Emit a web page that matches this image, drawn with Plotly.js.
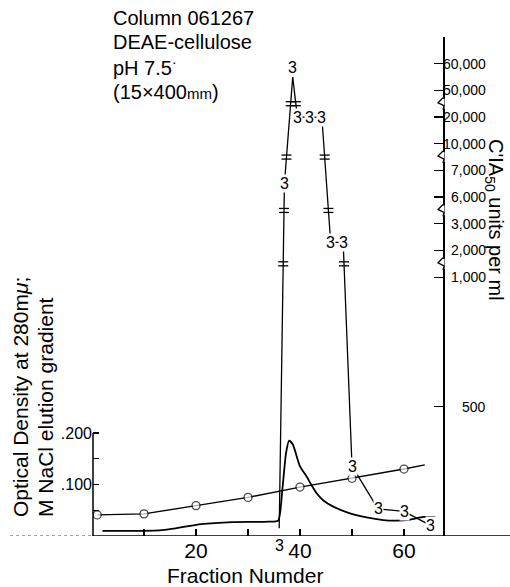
<!DOCTYPE html>
<html><head><meta charset="utf-8">
<script src="https://cdn.plot.ly/plotly-3.0.1.min.js"></script>
<style>html,body{margin:0;padding:0;background:#fff;}#chart{width:510px;height:587px;}</style>
</head><body><div id="chart"></div>
<script>
// ---------------- data ----------------
const naclFraction = [1, 10, 20, 30, 40, 50, 60, 64];
const naclMolarity = [0.041, 0.043, 0.059, 0.075, 0.095, 0.112, 0.130, 0.138];

const odFraction = [2, 13, 16, 21, 27, 34, 35.8, 36.6, 37.3, 37.9, 38.6, 40, 41.3, 42.2, 43.2, 44.5, 46.4, 49.6, 52.8, 56, 58.6, 61.2, 63.7, 66];
const odValue    = [0.010, 0.011, 0.015, 0.023, 0.027, 0.028, 0.030, 0.090, 0.160, 0.185, 0.178, 0.135, 0.115, 0.099, 0.083, 0.069, 0.057, 0.044, 0.036, 0.031, 0.030, 0.032, 0.037, 0.037];

const actFraction = [36, 37, 38.6, 39.5, 41.8, 44.2, 45.9, 48.3, 50, 55, 60, 65];
const actUnits    = [30, 6500, 55000, 20000, 20000, 20000, 2300, 2300, 270, 105, 95, 42];
const actMarker   = ['3', '3', '3', '3', '3', '3', '3', '3', '3', '3', '3', '3'];
const actMarkerPlace = ['below', 'center', 'above', 'center', 'center', 'center', 'center', 'center', 'center', 'center', 'center', 'center'];

// broken right-hand scale (C'IA50 units per ml)
const scaleValues = [0, 1000, 2000, 3000, 6000, 7000, 10000, 20000, 50000, 60000, 70000];
const scaleText   = ['', '1,000', '2,000', '3,000', '6,000', '7,000', '10,000', '20,000', '50,000', '60,000', ''];
const extraTickValues = [500];
const extraTickText   = ['500'];
const breakAfter = [1000, 3000, 7000, 20000];
const LINEAR_SPAN = 9.7;   // steps occupied by the linear 0-1000 part

const xTickVals = [20, 40, 60];
const xTickText = ['20', '40', '60'];
const xMinorVals = [10, 30, 50];
const odTickVals = [0.1, 0.2];
const odTickText = ['.100', '.200'];
const odMinorVals = [0.05, 0.15];

// ---------------- helpers ----------------
const scalePositions = scaleValues.map((v, i) => i === 0 ? 0 : LINEAR_SPAN + (i - 1));
function scalePos(v) {
  for (let i = 0; i < scaleValues.length - 1; i++) {
    if (v <= scaleValues[i + 1]) {
      const t = (v - scaleValues[i]) / (scaleValues[i + 1] - scaleValues[i]);
      return scalePositions[i] + t * (scalePositions[i + 1] - scalePositions[i]);
    }
  }
  return scalePositions[scalePositions.length - 1];
}
const L = 93, R = 443, T = 37, B = 536;
const pxX = p => (p - L) / (R - L);
const pxY = p => (B - p) / (B - T);

const MAIN = "'Liberation Sans', Arial, sans-serif";

const actPos = actUnits.map(scalePos);
const y2Top = scalePositions[scalePositions.length - 1];

// ---------------- traces ----------------
const traces = [
  { x: odFraction, y: odValue, yaxis: 'y', mode: 'lines',
    line: { color: '#000', width: 1.8, shape: 'spline', smoothing: 0.6 }, hoverinfo: 'skip' },
  { x: naclFraction, y: naclMolarity, yaxis: 'y', mode: 'lines+markers',
    line: { color: '#000', width: 1.4 },
    marker: { symbol: 'circle', color: '#fff', size: naclFraction.map((f, i) => i === naclFraction.length - 1 ? 0 : 8),
              line: { color: '#000', width: 1.3 } }, hoverinfo: 'skip' },
  { x: actFraction, y: actPos, yaxis: 'y2', mode: 'lines',
    line: { color: '#000', width: 1.3 }, hoverinfo: 'skip' }
];

// ---------------- shapes ----------------
const shapes = [];
shapes.push({ type: 'line', xref: 'paper', yref: 'y', x0: 0, x1: pxX(510), y0: 0, y1: 0, line: { color: '#000', width: 1.5 } });
shapes.push({ type: 'line', xref: 'paper', yref: 'y', x0: pxX(10), x1: 0, y0: 0, y1: 0, line: { color: '#444', width: 1, dash: 'dot' } });
shapes.push({ type: 'line', xref: 'paper', yref: 'y', x0: 0, x1: 0, y0: 0, y1: 0.2, line: { color: '#000', width: 1.5 } });
breakAfter.forEach(v => {
  const b = scalePos(v) + 0.5;
  shapes.push({ type: 'rect', xref: 'paper', yref: 'y2', xsizemode: 'pixel', ysizemode: 'pixel',
    xanchor: 1, yanchor: b, x0: -1.5, x1: 1.5, y0: -5, y1: 5, fillcolor: '#fff', line: { width: 0 }, layer: 'above' });
  shapes.push({ type: 'path', xref: 'paper', yref: 'y2', xsizemode: 'pixel', ysizemode: 'pixel',
    xanchor: 1, yanchor: b, path: 'M0,6 L-5,1 L1,-2 L0,-6', line: { color: '#000', width: 1.3 }, layer: 'above' });
});
breakAfter.forEach(v => {
  const b = scalePos(v) + 0.5;
  for (let i = 0; i < actPos.length - 1; i++) {
    if ((actPos[i] - b) * (actPos[i + 1] - b) < 0) {
      const t = (b - actPos[i]) / (actPos[i + 1] - actPos[i]);
      const xc = actFraction[i] + t * (actFraction[i + 1] - actFraction[i]);
      [-2, 2].forEach(dy => shapes.push({ type: 'line', xref: 'x', yref: 'y2', xsizemode: 'pixel', ysizemode: 'pixel',
        xanchor: xc, yanchor: b, x0: -5, x1: 5, y0: dy, y1: dy, line: { color: '#000', width: 1.3 } }));
    }
  }
});

// ---------------- annotations ----------------
const ann = [];
actFraction.forEach((f, i) => {
  const place = actMarkerPlace[i];
  ann.push({ x: f, y: actPos[i], xref: 'x', yref: 'y2', text: actMarker[i], showarrow: false,
    bgcolor: '#fff', borderpad: 0, font: { family: MAIN, size: 16, color: '#000' },
    yshift: place === 'above' ? 10 : (place === 'below' ? -17 : 0) });
});
scaleValues.forEach((v, i) => {
  if (!scaleText[i]) return;
  ann.push({ x: pxX(488), y: scalePos(v), xref: 'paper', yref: 'y2', xanchor: 'right', yanchor: 'middle',
    text: scaleText[i], showarrow: false, font: { family: MAIN, size: 14, color: '#000' } });
});
extraTickValues.forEach((v, i) => {
  ann.push({ x: pxX(488), y: scalePos(v), xref: 'paper', yref: 'y2', xanchor: 'right', yanchor: 'middle',
    text: extraTickText[i], showarrow: false, font: { family: MAIN, size: 14, color: '#000' } });
});
const info = ['Column 061267', 'DEAE-cellulose', 'pH 7.5<sup>·</sup>', '(15×400<span style="font-size:15px">mm</span>)'];
const infoY = [18, 42.5, 67, 91.5];
info.forEach((t, i) => ann.push({ x: pxX(111), y: pxY(infoY[i]), xref: 'paper', yref: 'paper', xanchor: 'left', yanchor: 'middle',
  text: t, showarrow: false, font: { family: MAIN, size: 20, color: '#000' } }));
ann.push({ x: pxX(20), y: pxY(519), xref: 'paper', yref: 'paper', xanchor: 'center', yanchor: 'bottom', textangle: -90,
  text: 'Optical Density at 280m<i>μ</i>;', showarrow: false, font: { family: MAIN, size: 21, color: '#000' } });
ann.push({ x: pxX(45), y: pxY(519), xref: 'paper', yref: 'paper', xanchor: 'center', yanchor: 'bottom', textangle: -90,
  text: 'M NaCl elution gradient', showarrow: false, font: { family: MAIN, size: 21, color: '#000' } });
ann.push({ x: pxX(495), y: pxY(220), xref: 'paper', yref: 'paper', xanchor: 'center', yanchor: 'middle', textangle: 90,
  text: "C'IA<sub>50</sub> units per ml", showarrow: false, font: { family: MAIN, size: 20, color: '#000' } });
ann.push({ x: pxX(245), y: pxY(575), xref: 'paper', yref: 'paper', xanchor: 'center', yanchor: 'middle',
  text: 'Fraction Numder', showarrow: false, font: { family: MAIN, size: 21, color: '#000' } });

// ---------------- layout ----------------
const layout = {
  width: 510, height: 587,
  margin: { l: L, r: 510 - R, t: T, b: 587 - B, pad: 0, autoexpand: false },
  paper_bgcolor: '#fff', plot_bgcolor: 'rgba(0,0,0,0)', showlegend: false,
  xaxis: { range: [0.19, 67.5], showgrid: false, zeroline: false, showline: false,
    tickmode: 'array', tickvals: xTickVals, ticktext: xTickText, ticks: 'inside', ticklen: 7, tickwidth: 1.3, tickcolor: '#000',
    minor: { tickmode: 'array', tickvals: xMinorVals, ticks: 'inside', ticklen: 7, tickwidth: 1.3, tickcolor: '#000', showgrid: false },
    tickfont: { family: MAIN, size: 21, color: '#000' } },
  yaxis: { range: [0, (B - T) / 515], showgrid: false, zeroline: false, showline: false,
    tickmode: 'array', tickvals: odTickVals, ticktext: odTickText, ticks: 'inside', ticklen: 6, tickwidth: 1.3, tickcolor: '#000',
    minor: { tickmode: 'array', tickvals: odMinorVals, ticks: 'inside', ticklen: 6, tickwidth: 1.3, tickcolor: '#000', showgrid: false },
    tickfont: { family: MAIN, size: 16, color: '#000' } },
  yaxis2: { overlaying: 'y', side: 'right', range: [0, y2Top], showgrid: false, zeroline: false,
    showline: true, linecolor: '#000', linewidth: 1.5,
    tickmode: 'array', tickvals: scaleValues.slice(1).map(scalePos).concat(extraTickValues.map(scalePos)),
    ticks: 'inside', ticklen: 9, tickwidth: 1.3, tickcolor: '#000', showticklabels: false },
  shapes: shapes,
  annotations: ann
};

Plotly.newPlot('chart', traces, layout, { staticPlot: true, displayModeBar: false });
</script>
</body></html>
